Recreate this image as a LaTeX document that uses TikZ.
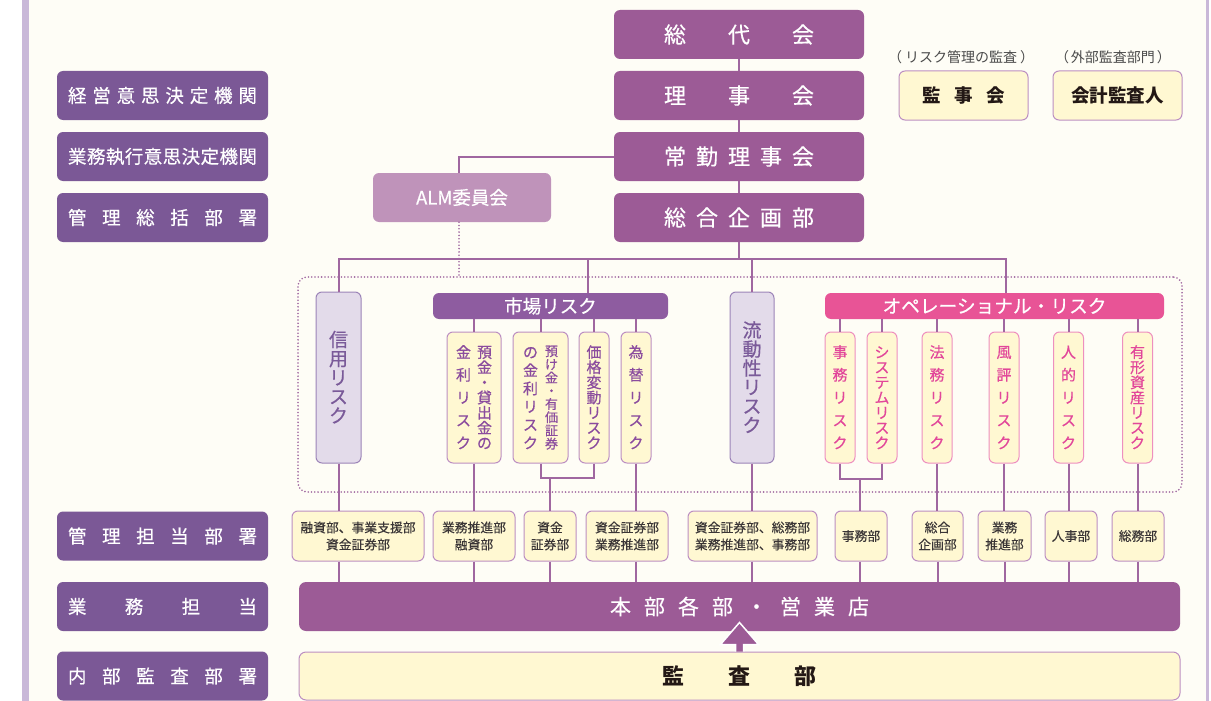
\documentclass[tikz,border=0pt]{standalone}
\usepackage{fontspec}
\setmainfont{Noto Sans CJK JP}
\newfontfamily\medium{Noto Sans CJK JP}[FakeBold=0.5]
\newfontfamily\semi{Noto Sans CJK JP}[FakeBold=0.25]
\usetikzlibrary{calc}
\definecolor{bg}{HTML}{FEFDF6}
\definecolor{band}{HTML}{C9B8D8}
\definecolor{labc}{HTML}{7B5896}
\definecolor{mainc}{HTML}{9C5B96}
\definecolor{almc}{HTML}{BF93BA}
\definecolor{linec}{HTML}{A067A0}
\definecolor{lavf}{HTML}{E3DBEA}
\definecolor{lavb}{HTML}{9C84B8}
\definecolor{lavt}{HTML}{7A5A99}
\definecolor{creamf}{HTML}{FFF8D2}
\definecolor{creamb}{HTML}{BC8FC2}
\definecolor{mktc}{HTML}{8E5CA0}
\definecolor{mktt}{HTML}{8B4C9E}
\definecolor{opec}{HTML}{E85496}
\definecolor{opeb}{HTML}{EE8FBF}
\definecolor{opet}{HTML}{E2479A}
\definecolor{darkt}{HTML}{231815}
\definecolor{deptt}{HTML}{3A3536}
\definecolor{notet}{HTML}{4A4A4A}
\newcommand\fs[1]{\fontsize{#1}{#1}\selectfont}
\def\hsA#1{#1\hsB}
\def\hsB#1{\ifx#1\relax\else\hfill#1\expandafter\hsB\fi}
\newcommand\hsp[2]{\makebox[#1pt]{\hsA#2\relax}}
\newcommand\vchar[1]{\hbox to 1em{\hss\raisebox{0pt}[.88em][.12em]{#1}\hss}}
\def\vsA#1{\vchar{#1}\vsB}
\def\vsB#1{\ifx#1\relax\else\vfill\vchar{#1}\expandafter\vsB\fi}
\newcommand\vcol[2]{\vbox to #1pt{\offinterlineskip\vsA#2\relax}}
\newcommand\vnat[1]{\vbox{\offinterlineskip\vsA#1\relax}}
\begin{document}
\begin{tikzpicture}[x=1pt,y=-1pt,
 lab/.style={rectangle,rounded corners=6,fill=labc,text=white,minimum width=211,minimum height=49,inner sep=0,font=\medium\fs{18.5}},
 head/.style={rectangle,rounded corners=6,fill=mainc,text=white,minimum width=250,minimum height=49,inner sep=0,font=\medium\fs{22}},
 audit/.style={rectangle,rounded corners=6,fill=creamf,draw=creamb,line width=1,text=darkt,minimum width=129,minimum height=49,inner sep=0,font=\fs{18.5}\bfseries},
 note/.style={inner sep=0,text=notet,font=\fs{14}},
 lav/.style={rectangle,rounded corners=6,fill=lavf,draw=lavb,line width=1,text=lavt,minimum height=171,inner sep=0,font=\medium\fs{19}},
 mhead/.style={rectangle,rounded corners=6,text=white,minimum height=26,inner sep=0,font=\medium\fs{18.5}},
 msub/.style={rectangle,rounded corners=6,fill=creamf,draw=creamb,line width=1,text=mktt,minimum height=131,inner sep=0,font=\medium\fs{15}},
 osub/.style={rectangle,rounded corners=6,fill=creamf,draw=opeb,line width=1,text=opet,minimum height=131,minimum width=30,inner sep=0,font=\medium\fs{15}},
 dept/.style={rectangle,rounded corners=6,fill=creamf,draw=creamb,line width=1,text=deptt,minimum height=50,inner sep=0,align=center,font=\semi\fontsize{12.8}{17}\selectfont},
 conn/.style={draw=linec,line width=2},
 dots/.style={draw=linec,line width=1.8,dash pattern=on 0pt off 3.3pt,line cap=round},
]
% background
\fill[white] (0,0) rectangle (1211,701);
\fill[bg] (29,0) rectangle (1206,701);
\fill[band] (22,0) rectangle (29,701);
\fill[band] (1206,0) rectangle (1209,701);
\useasboundingbox (0,0) rectangle (1211,701);

% left labels
\node[lab] (l1) at (162.5,95.5) {\hsp{189}{経営意思決定機関}};
\node[lab] (l2) at (162.5,156.5) {\hsp{189}{業務執行意思決定機関}};
\node[lab] (l3) at (162.5,217.5) {\hsp{189}{管理総括部署}};
\node[lab] (l4) at (162.5,536) {\hsp{189}{管理担当部署}};
\node[lab] (l5) at (162.5,606.5) {\hsp{189}{業務担当}};
\node[lab] (l6) at (162.5,676) {\hsp{189}{内部監査部署}};

% center column
\node[head] (soudai) at (739,34.5) {\hsp{150}{総代会}};
\node[head] (riji) at (739,95.5) {\hsp{150}{理事会}};
\node[head] (joukin) at (739,156.5) {\hsp{150}{常勤理事会}};
\node[head] (kikaku) at (739,217.5) {\hsp{150}{総合企画部}};
\node[rectangle,rounded corners=6,fill=almc,text=white,minimum width=178,minimum height=49,inner sep=0,font=\medium\fs{18.5}] (alm) at (462,197.5) {ALM委員会};

% auditors
\node[audit] (kanji) at (963.5,95.5) {\hsp{83}{監事会}};
\node[audit] (kaikei) at (1117.5,95.5) {会計監査人};
\node[note] (n1) at (961,57) {（\hspace{3pt}リスク管理の監査\hspace{3pt}）};
\node[note] (n2) at (1113,57) {（\hspace{2pt}外部監査部門\hspace{2pt}）};

% risk area
\node[dots,rounded corners=9,minimum width=884,minimum height=215,inner sep=0] (area) at (740,384.5) {};
\node[lav,minimum width=45] (shinyo) at (338.5,377.5) {\vnat{信用リスク}};
\node[lav,minimum width=44] (ryudo) at (752,377.5) {\vnat{流動性リスク}};
\node[mhead,fill=mktc,minimum width=235] (ichiba) at (550.5,306) {市場リスク};
\node[mhead,fill=opec,minimum width=339,font=\medium\fs{18.7}] (ope) at (994.5,306) {オペレーショナル・リスク};

\node[msub,minimum width=54] (m1) at (474,397.5) {\vcol{104}{金利リスク}\hspace{6pt}\vcol{104}{預金・貸出金の}};
\node[msub,minimum width=55] (m2) at (540.5,397.5) {\vcol{104}{の金利リスク}\hspace{7pt}{\fs{13}\vcol{104}{預け金・有価証券}}};
\node[msub,minimum width=30] (m3) at (594,397.5) {\vcol{104}{価格変動リスク}};
\node[msub,minimum width=30] (m4) at (636,397.5) {\vcol{104}{為替リスク}};

\node[osub] (o1) at (840,397.5) {\vcol{104}{事務リスク}};
\node[osub] (o2) at (882,397.5) {\vcol{104}{システムリスク}};
\node[osub] (o3) at (937,397.5) {\vcol{104}{法務リスク}};
\node[osub] (o4) at (1004,397.5) {\vcol{104}{風評リスク}};
\node[osub] (o5) at (1068.5,397.5) {\vcol{104}{人的リスク}};
\node[osub] (o6) at (1137.5,397.5) {\vcol{104}{有形資産リスク}};

% departments
\node[dept,minimum width=132] (d1) at (358,536) {融資部、事業支援部\\資金証券部};
\node[dept,minimum width=82] (d2) at (474,536) {業務推進部\\融資部};
\node[dept,minimum width=52] (d3) at (550,536) {資金\\証券部};
\node[dept,minimum width=82] (d4) at (627,536) {資金証券部\\業務推進部};
\node[dept,minimum width=129] (d5) at (752.5,536) {資金証券部、総務部\\業務推進部、事務部};
\node[dept,minimum width=52] (d6) at (861,536) {事務部};
\node[dept,minimum width=51] (d7) at (937.5,536) {総合\\企画部};
\node[dept,minimum width=53] (d8) at (1004.5,536) {業務\\推進部};
\node[dept,minimum width=52] (d9) at (1071,536) {人事部};
\node[dept,minimum width=52] (d10) at (1138,536) {総務部};

% bottom bars
\node[rectangle,rounded corners=7,fill=mainc,text=white,minimum width=881,minimum height=49,inner sep=0,font=\medium\fs{21}] (honbu) at (739.5,606.5) {\hsp{259}{本部各部・営業店}};
\node[rectangle,rounded corners=7,fill=creamf,draw=creamb,line width=1,text=darkt,minimum width=881,minimum height=48,inner sep=0,font=\fs{22}\bfseries] (kansa) at (739.5,676) {\hsp{155}{監査部}};

% coordinates
\coordinate (bus) at (739,259);
\coordinate (busL) at (338.5,259);
\coordinate (busM) at (588,259);
\coordinate (busR) at (1006,259);
\coordinate (almc) at (459,156.5);
\coordinate (mj) at (550,478);
\coordinate (oj) at (860,479);

% connectors
\draw[conn] (soudai.south) -- (riji.north);
\draw[conn] (riji.south) -- (joukin.north);
\draw[conn] (joukin.south) -- (kikaku.north);
\draw[conn] (joukin.west) -- (almc) -- (almc |- alm.north);
\draw[dots] (almc |- alm.south) -- (almc |- area.north);
\draw[conn] (kikaku.south) -- (bus);
\draw[conn] (shinyo.north) -- (busL) -- (busR) -- (busR |- ope.north);
\draw[conn] (busM) -- (busM |- ichiba.north);
\draw[conn] (ryudo.north |- bus) -- (ryudo.north);
\foreach \m in {m1,m2,m3,m4} \draw[conn] (\m.north |- ichiba.south) -- (\m.north);
\foreach \o in {o1,o2,o3,o4,o5,o6} \draw[conn] (\o.north |- ope.south) -- (\o.north);
\draw[conn] (shinyo.south) -- (shinyo.south |- d1.north);
\draw[conn] (m1.south) -- (m1.south |- d2.north);
\draw[conn] (m2.south) |- (mj);
\draw[conn] (m3.south) |- (mj);
\draw[conn] (mj) -- (mj |- d3.north);
\draw[conn] (m4.south) -- (m4.south |- d4.north);
\draw[conn] (ryudo.south) -- (ryudo.south |- d5.north);
\draw[conn] (o1.south) |- (oj);
\draw[conn] (o2.south) |- (oj);
\draw[conn] (oj) -- (oj |- d6.north);
\draw[conn] (o3.south) -- (o3.south |- d7.north);
\draw[conn] (o4.south) -- (o4.south |- d8.north);
\draw[conn] (o5.south) -- (o5.south |- d9.north);
\draw[conn] (o6.south) -- (o6.south |- d10.north);
% departments to honbu
\draw[conn] (shinyo.south |- d1.south) -- (shinyo.south |- honbu.north);
\draw[conn] (d2.south) -- (d2.south |- honbu.north);
\draw[conn] (mj |- d3.south) -- (mj |- honbu.north);
\draw[conn] (m4.south |- d4.south) -- (m4.south |- honbu.north);
\draw[conn] (ryudo.south |- d5.south) -- (ryudo.south |- honbu.north);
\draw[conn] (oj |- d6.south) -- (oj |- honbu.north);
\draw[conn] (d7.south) -- (d7.south |- honbu.north);
\draw[conn] (d8.south) -- (d8.south |- honbu.north);
\draw[conn] (o5.south |- d9.south) -- (o5.south |- honbu.north);
\draw[conn] (d10.south) -- (d10.south |- honbu.north);

% audit arrow
\draw[fill=mainc,draw=white,line width=1.5,line join=miter]
  ($(kansa.north)+(-4,0)$) -- ($(kansa.north)+(-4,-7)$) -- ($(kansa.north)+(-19,-7)$)
  -- ($(kansa.north)+(0,-29)$) -- ($(kansa.north)+(19,-7)$) -- ($(kansa.north)+(4,-7)$)
  -- ($(kansa.north)+(4,0)$);
\end{tikzpicture}
\end{document}
